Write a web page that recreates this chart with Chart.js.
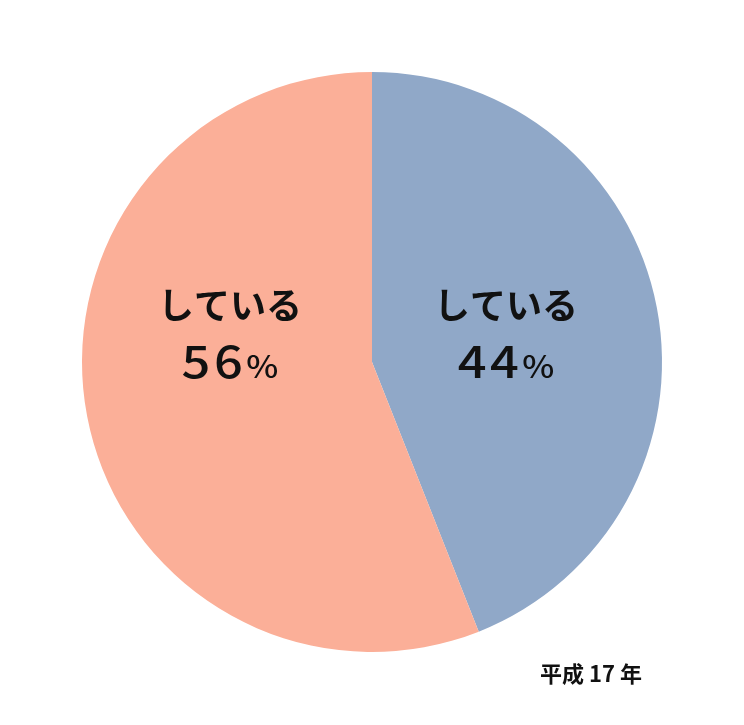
<!DOCTYPE html>
<html><head><meta charset="utf-8">
<script src="https://cdn.jsdelivr.net/npm/chart.js@4/dist/chart.umd.min.js"></script>
<style>html,body{margin:0;padding:0;background:#fff}canvas{display:block}</style>
</head><body>
<canvas id="c" width="744" height="725"></canvas>
<script>
const categories = ["している", "している"];
const values = [44, 56];
const colors = ["#90A8C8", "#FBAF98"];
const footnote = "平成 17 年";

const labelPlugin = {
  id: 'sliceLabels',
  afterDraw(chart) {
    const ctx = chart.ctx;
    const arcs = chart.getDatasetMeta(0).data;
    const offsets = [[0.462, 0], [-0.49, 0]];
    ctx.save();
    ctx.fillStyle = '#111';
    ctx.textBaseline = 'alphabetic';
    arcs.forEach((arc, i) => {
      const R = arc.outerRadius;
      const cx = arc.x + offsets[i][0] * R;
      const cy = arc.y;
      ctx.font = 'bold 36px "Noto Sans CJK JP"';
      ctx.letterSpacing = '0px';
      ctx.textAlign = 'center';
      ctx.fillText(categories[i], cx, cy - 43);
      const num = String(values[i]);
      const sx = 1.15, sp = 1.1;
      ctx.textAlign = 'left';
      ctx.font = '500 44px "Noto Sans CJK JP"';
      ctx.letterSpacing = '3px';
      const wn = ctx.measureText(num).width * sx;
      ctx.font = '500 31px "Noto Sans CJK JP"';
      ctx.letterSpacing = '0px';
      const wp = ctx.measureText('%').width * sp;
      const x = cx - (wn + wp) / 2;
      ctx.save();
      ctx.translate(x, cy + 16);
      ctx.scale(sx, 1);
      ctx.font = '500 44px "Noto Sans CJK JP"';
      ctx.letterSpacing = '3px';
      ctx.fillText(num, 0, 0);
      ctx.restore();
      ctx.save();
      ctx.translate(x + wn, cy + 16);
      ctx.scale(sp, 1);
      ctx.font = '500 31px "Noto Sans CJK JP"';
      ctx.letterSpacing = '0px';
      ctx.fillText('%', 0, 0);
      ctx.restore();
    });
    ctx.font = 'bold 22px "Noto Sans CJK JP"';
    ctx.letterSpacing = '0px';
    ctx.textAlign = 'center';
    ctx.textBaseline = 'middle';
    ctx.fillText(footnote, 591, 674);
    ctx.restore();
  }
};

new Chart(document.getElementById('c'), {
  type: 'pie',
  data: {
    labels: categories,
    datasets: [{ data: values, backgroundColor: colors, borderWidth: 0 }]
  },
  options: {
    responsive: false,
    animation: false,
    layout: { padding: { top: 72, bottom: 73, left: 82, right: 82 } },
    plugins: { legend: { display: false }, tooltip: { enabled: false } }
  },
  plugins: [labelPlugin]
});
</script>
</body></html>
